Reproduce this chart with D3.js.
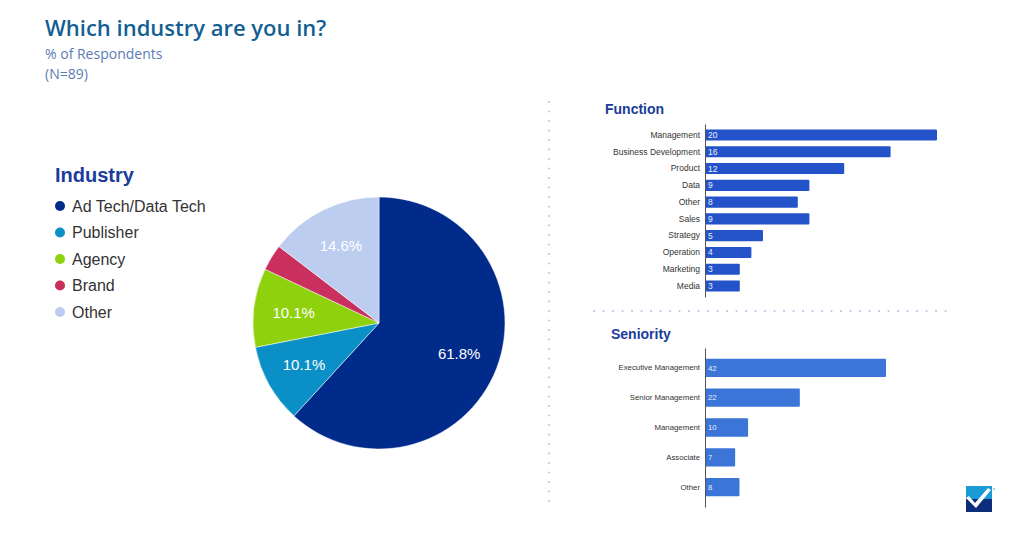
<!DOCTYPE html>
<html><head><meta charset="utf-8">
<script src="https://cdn.jsdelivr.net/npm/d3@7"></script>
<style>
html,body{margin:0;padding:0;background:#fff;}
svg{display:block;}
</style></head>
<body>
<svg id="chart" width="1024" height="538"></svg>
<script>
// ---- Data ----
const industryCategories = ["Ad Tech/Data Tech", "Publisher", "Agency", "Brand", "Other"];
const industryCounts = [55, 9, 9, 3, 13];
const industryLabels = ["61.8%", "10.1%", "10.1%", "", "14.6%"];
const industryColors = ["#012b8b", "#0b8fc7", "#8fd10c", "#c9305e", "#bccdf0"];

const functionCategories = ["Management", "Business Development", "Product", "Data", "Other", "Sales", "Strategy", "Operation", "Marketing", "Media"];
const functionValues = [20, 16, 12, 9, 8, 9, 5, 4, 3, 3];

const seniorityCategories = ["Executive Management", "Senior Management", "Management", "Associate", "Other"];
const seniorityValues = [42, 22, 10, 7, 8];

const svg = d3.select("#chart");

// ---- Titles ----
svg.append("text").attr("x", 45).attr("y", 36)
  .attr("font-family", "Open Sans").attr("font-weight", 600).attr("font-size", 22)
  .attr("fill", "#135f93").text("Which industry are you in?");
svg.append("text").attr("x", 45).attr("y", 59)
  .attr("font-family", "Open Sans").attr("font-size", 14)
  .attr("fill", "#5b7db3").text("% of Respondents");
svg.append("text").attr("x", 45).attr("y", 79)
  .attr("font-family", "Open Sans").attr("font-size", 14)
  .attr("fill", "#5b7db3").text("(N=89)");

// ---- Separators ----
svg.append("line").attr("x1", 549).attr("x2", 549).attr("y1", 102).attr("y2", 510)
  .attr("stroke", "#b4c6ec").attr("stroke-width", 2).attr("stroke-linecap", "round")
  .attr("stroke-dasharray", "0.1 9.4");
svg.append("line").attr("x1", 594).attr("x2", 952).attr("y1", 311).attr("y2", 311)
  .attr("stroke", "#b4c6ec").attr("stroke-width", 2).attr("stroke-linecap", "round")
  .attr("stroke-dasharray", "0.1 9.4");

// ---- Legend ----
svg.append("text").attr("x", 55).attr("y", 182)
  .attr("font-family", "Liberation Sans, Arial, sans-serif").attr("font-weight", "bold").attr("font-size", 20)
  .attr("fill", "#1b3c9c").text("Industry");
const legendY = d3.scalePoint().domain(industryCategories).range([206, 312]);
const legend = svg.append("g");
industryCategories.forEach((c, i) => {
  legend.append("circle").attr("cx", 60).attr("cy", legendY(c)).attr("r", 5).attr("fill", industryColors[i]);
  legend.append("text").attr("x", 72).attr("y", legendY(c)).attr("dy", "0.35em")
    .attr("font-family", "Liberation Sans, Arial, sans-serif").attr("font-size", 16)
    .attr("fill", "#333").text(c);
});

// ---- Pie ----
const cx = 379, cy = 323, R = 126;
const pie = d3.pie().sort(null).value(d => d)(industryCounts);
const arc = d3.arc().innerRadius(0).outerRadius(R);
const labelArc = d3.arc().innerRadius(86).outerRadius(86);
const pg = svg.append("g").attr("transform", `translate(${cx},${cy})`);
pg.selectAll("path").data(pie).join("path")
  .attr("d", arc).attr("fill", (d, i) => industryColors[i])
  .attr("stroke", "#fff").attr("stroke-width", 0.5);
pg.selectAll("text").data(pie).join("text")
  .attr("transform", d => `translate(${labelArc.centroid(d)})`)
  .attr("text-anchor", "middle").attr("dy", "0.35em")
  .attr("font-family", "Liberation Sans, Arial, sans-serif").attr("font-size", 15)
  .attr("fill", "#fff").text((d, i) => industryLabels[i]);

// ---- Bar chart helper ----
function barChart(opts) {
  const g = svg.append("g");
  g.append("text").attr("x", opts.titleX).attr("y", opts.titleY)
    .attr("font-family", "Liberation Sans, Arial, sans-serif").attr("font-weight", "bold").attr("font-size", 14)
    .attr("fill", "#1b3c9c").text(opts.title);
  const y = d3.scaleBand().domain(opts.categories).range(opts.yRange)
    .paddingInner(opts.pi).paddingOuter(opts.po);
  const x = d3.scaleLinear().domain([0, opts.maxV]).range([opts.x0, opts.x1]);
  g.selectAll("rect").data(opts.values).join("rect")
    .attr("x", x(0)).attr("y", (d, i) => y(opts.categories[i]))
    .attr("width", d => x(d) - x(0)).attr("height", y.bandwidth())
    .attr("fill", opts.color).attr("rx", 1);
  g.selectAll("text.v").data(opts.values).join("text").attr("class", "v")
    .attr("x", x(0) + 3).attr("y", (d, i) => y(opts.categories[i]) + y.bandwidth() / 2)
    .attr("dy", "0.35em").attr("font-family", "Liberation Sans, Arial, sans-serif")
    .attr("font-size", opts.fs).attr("fill", "#e8eefc").text(d => d);
  const axis = d3.axisLeft(y).tickSize(0).tickPadding(5);
  const ag = g.append("g").attr("transform", `translate(${x(0)},0)`).call(axis);
  ag.select(".domain").attr("stroke", "#555").attr("stroke-width", 1);
  ag.selectAll("text").attr("font-family", "Liberation Sans, Arial, sans-serif")
    .attr("font-size", opts.fs).attr("fill", "#333");
}

barChart({
  title: "Function", titleX: 605, titleY: 114,
  categories: functionCategories, values: functionValues,
  yRange: [124, 297], pi: 0.34, po: 0.33,
  maxV: 20, x0: 705, x1: 937, color: "#2453c9", fs: 8.5
});

barChart({
  title: "Seniority", titleX: 611, titleY: 339,
  categories: seniorityCategories, values: seniorityValues,
  yRange: [348, 507], pi: 0.386, po: 0.36,
  maxV: 42, x0: 705, x1: 886, color: "#3a75d7", fs: 7.8
});

// ---- Logo ----
const logo = svg.append("g").attr("transform", "translate(966,486)");
logo.append("rect").attr("width", 26).attr("height", 13).attr("fill", "#1b9bd6");
logo.append("rect").attr("y", 13).attr("width", 26).attr("height", 13).attr("fill", "#0b2d7c");
logo.append("path").attr("d", "M0,12 L3,10 L9,17 L22,2 L25,4 L10,22 Z").attr("fill", "#fff");
logo.append("circle").attr("cx", 28).attr("cy", 3).attr("r", 0.8).attr("fill", "#1b9bd6");
</script>
</body></html>
